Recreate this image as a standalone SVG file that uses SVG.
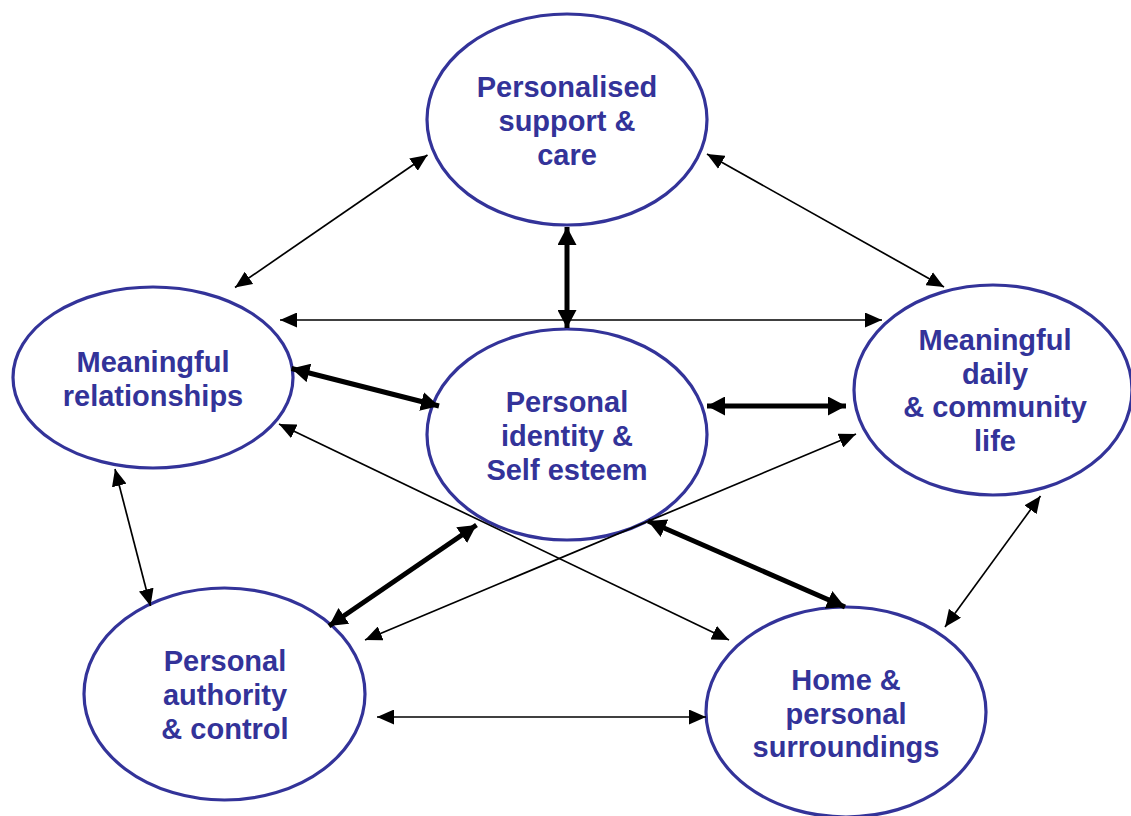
<svg xmlns="http://www.w3.org/2000/svg" width="1131" height="816" viewBox="0 0 1131 816">
  <style>
    .node ellipse { fill: none; stroke: #333399; stroke-width: 3.2; }
    .node text { font-family: "Liberation Sans", Arial, sans-serif; font-weight: bold; font-size: 29px; fill: #333399; text-anchor: middle; }
    .thin { stroke: #000; stroke-width: 1.7; fill: none; marker-start: url(#headThin); marker-end: url(#headThin); }
    .thick { stroke: #000; stroke-width: 5; fill: none; marker-start: url(#headThick); marker-end: url(#headThick); }
  </style>
  <defs>
    <marker id="headThin" markerUnits="userSpaceOnUse" viewBox="0 0 17 15" refX="17" refY="7.5" markerWidth="17" markerHeight="15" orient="auto-start-reverse">
      <path d="M0,0 L17,7.5 L0,15 z" fill="#000"/>
    </marker>
    <marker id="headThick" markerUnits="userSpaceOnUse" viewBox="0 0 18 19" refX="18" refY="9.5" markerWidth="18" markerHeight="19" orient="auto-start-reverse">
      <path d="M0,0 L18,9.5 L0,19 z" fill="#000"/>
    </marker>
  </defs>

  <rect width="1131" height="816" fill="#fff"/>

  <g id="node-support" class="node">
    <ellipse cx="567" cy="119.5" rx="140" ry="105.5"/>
    <text x="567" y="97">Personalised</text>
    <text x="567" y="131">support &amp;</text>
    <text x="567" y="165">care</text>
  </g>

  <g id="node-relationships" class="node">
    <ellipse cx="153" cy="377.5" rx="140" ry="90.5"/>
    <text x="153" y="372">Meaningful</text>
    <text x="153" y="406">relationships</text>
  </g>

  <g id="node-identity" class="node">
    <ellipse cx="567" cy="434.5" rx="140" ry="105.5"/>
    <text x="567" y="412">Personal</text>
    <text x="567" y="446">identity &amp;</text>
    <text x="567" y="480">Self esteem</text>
  </g>

  <g id="node-daily" class="node">
    <ellipse cx="993" cy="390" rx="139" ry="105"/>
    <text x="995" y="350">Meaningful</text>
    <text x="995" y="384">daily</text>
    <text x="995" y="417">&amp; community</text>
    <text x="995" y="451">life</text>
  </g>

  <g id="node-authority" class="node">
    <ellipse cx="224.5" cy="694" rx="140.5" ry="106"/>
    <text x="225" y="671">Personal</text>
    <text x="225" y="705">authority</text>
    <text x="225" y="739">&amp; control</text>
  </g>

  <g id="node-home" class="node">
    <ellipse cx="846" cy="712" rx="140" ry="105"/>
    <text x="846" y="690">Home &amp;</text>
    <text x="846" y="724">personal</text>
    <text x="846" y="757">surroundings</text>
  </g>

  <g id="connectors">
    <!-- thin two-way links -->
    <line class="thin" x1="427.5" y1="155" x2="235" y2="287.5"/>
    <line class="thin" x1="707" y1="154" x2="944" y2="287"/>
    <line class="thin" x1="280" y1="320" x2="882" y2="320"/>
    <line class="thin" x1="279" y1="424" x2="729" y2="640"/>
    <line class="thin" x1="856" y1="434" x2="365" y2="640"/>
    <line class="thin" x1="115" y1="469" x2="150.5" y2="606"/>
    <line class="thin" x1="1040.5" y1="496" x2="945" y2="627"/>
    <line class="thin" x1="377" y1="717" x2="706" y2="717"/>
    <!-- heavy links to the central node -->
    <line class="thick" x1="567" y1="227" x2="567" y2="328"/>
    <line class="thick" x1="291.5" y1="368.5" x2="439" y2="406"/>
    <line class="thick" x1="707" y1="406" x2="846" y2="406"/>
    <line class="thick" x1="476.5" y1="525" x2="329" y2="626"/>
    <line class="thick" x1="648" y1="521" x2="845" y2="607"/>
  </g>
</svg>
